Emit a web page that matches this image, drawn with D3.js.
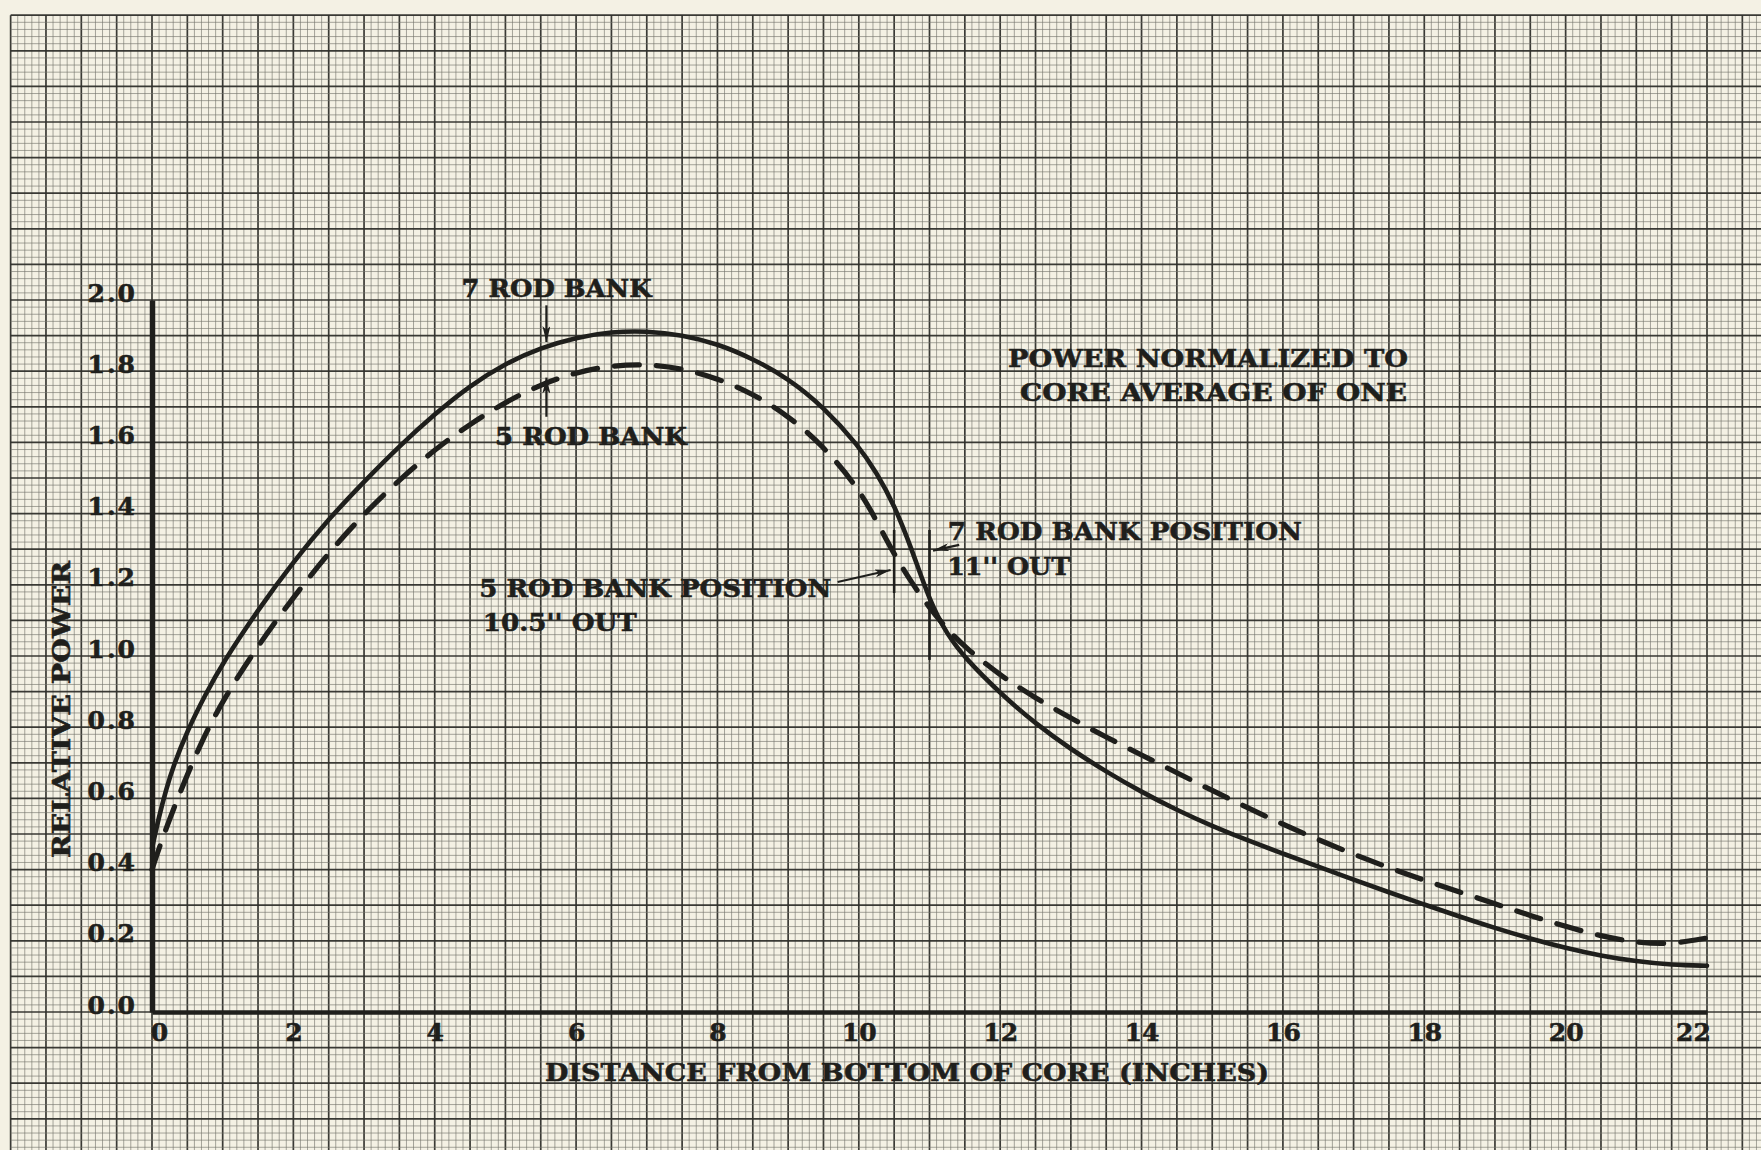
<!DOCTYPE html>
<html>
<head>
<meta charset="utf-8">
<script src="https://cdn.jsdelivr.net/npm/d3@7/dist/d3.min.js"></script>
<style>
  html, body { margin: 0; padding: 0; background: #f4f1e4; overflow: hidden; }
  svg { display: block; }
  text { font-family: "DejaVu Serif", "Liberation Serif", serif; font-weight: bold; fill: #1f1f1c; stroke: #1f1f1c; stroke-width: 0.6px; }
</style>
</head>
<body>
<svg id="chart" width="1761" height="1150"></svg>
<script>
// Axial power profile, normalized to the core average, for two rod bank configurations.

// 7 rod bank (solid curve): distance from bottom of core (in) and relative power
const distance7 = [0, 0.1, 0.2, 0.3, 0.5, 0.75, 1.0, 1.5, 2.0, 2.5, 3.0, 3.5, 4.0, 4.5, 5.0, 5.5, 6.0, 6.5, 7.0, 7.5, 8.0, 8.5, 9.0, 9.5, 10.0, 10.25, 10.5, 10.75, 11.0, 11.25, 11.5, 12.0, 12.5, 13.0, 13.5, 14.0, 14.5, 15.0, 15.5, 16.0, 16.5, 17.0, 17.5, 18.0, 18.5, 19.0, 19.5, 20.0, 20.5, 21.0, 21.5, 22.0];
const power7    = [0.46, 0.55, 0.625, 0.69, 0.79, 0.89, 0.98, 1.13, 1.265, 1.385, 1.49, 1.59, 1.68, 1.76, 1.822, 1.866, 1.895, 1.911, 1.913, 1.902, 1.877, 1.835, 1.78, 1.70, 1.59, 1.515, 1.425, 1.30, 1.155, 1.06, 0.995, 0.895, 0.81, 0.738, 0.675, 0.618, 0.567, 0.522, 0.482, 0.445, 0.408, 0.372, 0.336, 0.302, 0.268, 0.236, 0.206, 0.18, 0.158, 0.142, 0.132, 0.13];

// 5 rod bank (dashed curve)
const distance5 = [0, 0.15, 0.4, 0.7, 1.0, 1.5, 2.0, 2.5, 3.0, 3.5, 4.0, 4.5, 5.0, 5.5, 6.0, 6.5, 7.0, 7.5, 8.0, 8.5, 9.0, 9.5, 10.0, 10.25, 10.5, 10.75, 11.0, 11.25, 11.5, 12.0, 12.5, 13.0, 13.5, 14.0, 14.5, 15.0, 15.5, 16.0, 16.5, 17.0, 17.5, 18.0, 18.5, 19.0, 19.5, 20.0, 20.5, 21.0, 21.5, 22.0];
const power5    = [0.40, 0.49, 0.62, 0.76, 0.875, 1.03, 1.165, 1.29, 1.40, 1.495, 1.58, 1.652, 1.713, 1.763, 1.797, 1.816, 1.82, 1.808, 1.78, 1.737, 1.675, 1.59, 1.47, 1.38, 1.285, 1.205, 1.135, 1.075, 1.025, 0.945, 0.882, 0.825, 0.772, 0.722, 0.672, 0.622, 0.574, 0.527, 0.484, 0.443, 0.405, 0.37, 0.337, 0.304, 0.271, 0.24, 0.213, 0.195, 0.19, 0.208];

// Tick values
const xTicks = [0, 2, 4, 6, 8, 10, 12, 14, 16, 18, 20, 22];
const yTicks = [0.0, 0.2, 0.4, 0.6, 0.8, 1.0, 1.2, 1.4, 1.6, 1.8, 2.0];

// Rod bank withdrawal positions (inches out)
const bankPositions = [10.5, 11];

const W = 1761, H = 1150;
const svg = d3.select("#chart");
const ink = "#1f1f1c";

const x = d3.scaleLinear().domain([0, 22]).range([152, 1707]);
const y = d3.scaleLinear().domain([0, 2]).range([1012, 300]);

// ---- graph paper: fine rulings every 0.1 in / 0.02, heavy every 0.5 in / 0.1 ----
const paper = svg.append("g").attr("class", "paper");
const gx0 = x(-2), gy0 = y(2.8);
const vLines = d3.range(-20, 229).map(i => ({ v: i / 10, major: i % 5 === 0 }));
const hLines = d3.range(-20, 141).map(i => ({ v: i * 0.02, major: i % 5 === 0 }));

paper.selectAll("line.v").data(vLines).join("line")
  .attr("x1", d => x(d.v)).attr("x2", d => x(d.v))
  .attr("y1", gy0).attr("y2", H)
  .attr("stroke", d => d.major ? "#2f2f2b" : "#75756d")
  .attr("stroke-width", d => d.major ? 1.7 : 0.9)
  .attr("stroke-opacity", d => d.major ? 0.95 : 0.7);

paper.selectAll("line.h").data(hLines).join("line")
  .attr("y1", d => y(d.v)).attr("y2", d => y(d.v))
  .attr("x1", gx0).attr("x2", W)
  .attr("stroke", d => d.major ? "#2f2f2b" : "#75756d")
  .attr("stroke-width", d => d.major ? 1.7 : 0.9)
  .attr("stroke-opacity", d => d.major ? 0.95 : 0.7);

// ---- axes ----
const xAxis = svg.append("g")
  .attr("transform", `translate(0,${y(0)})`)
  .call(d3.axisBottom(x).tickValues(xTicks).tickFormat(d3.format("d")).tickSize(0).tickSizeOuter(0).tickPadding(11));
xAxis.select(".domain").attr("stroke", ink).attr("stroke-width", 4.5);
xAxis.selectAll("text")
  .style("font-size", "25px").attr("fill", ink)
  .attr("dx", d => d === 0 ? 7 : (d === 22 ? -14 : 0));

const yAxis = svg.append("g")
  .attr("transform", `translate(${x(0)},0)`)
  .call(d3.axisLeft(y).tickValues(yTicks).tickFormat(d3.format(".1f")).tickSize(0).tickSizeOuter(0).tickPadding(15));
yAxis.select(".domain").attr("stroke", ink).attr("stroke-width", 5.5);
yAxis.selectAll("text")
  .style("font-size", "25px").style("letter-spacing", "2px").attr("fill", ink)
  .attr("dy", "0.04em");

// Axis titles
svg.append("text")
  .attr("transform", `translate(70,${y(0.85)}) rotate(-90)`)
  .attr("text-anchor", "middle")
  .attr("textLength", 297).attr("lengthAdjust", "spacingAndGlyphs")
  .style("font-size", "25px")
  .text("RELATIVE POWER");

svg.append("text")
  .attr("x", 907).attr("y", 1081)
  .attr("text-anchor", "middle")
  .attr("textLength", 724).attr("lengthAdjust", "spacingAndGlyphs")
  .style("font-size", "25px")
  .text("DISTANCE FROM BOTTOM OF CORE (INCHES)");

// ---- curves ----
const line = d3.line().x(d => x(d[0])).y(d => y(d[1])).curve(d3.curveBasis);
const series7 = distance7.map((d, i) => [d, power7[i]]);
const series5 = distance5.map((d, i) => [d, power5[i]]);

svg.append("path").datum(series5)
  .attr("d", line).attr("fill", "none")
  .attr("stroke", ink).attr("stroke-width", 5.2)
  .attr("stroke-dasharray", "25,17").attr("stroke-linecap", "round");

svg.append("path").datum(series7)
  .attr("d", line).attr("fill", "none")
  .attr("stroke", ink).attr("stroke-width", 4.6)
  .attr("stroke-linecap", "round");

// ---- annotations ----
const defs = svg.append("defs");
defs.append("marker")
  .attr("id", "head").attr("viewBox", "0 0 16 8")
  .attr("refX", 16).attr("refY", 4)
  .attr("markerWidth", 16).attr("markerHeight", 8)
  .attr("markerUnits", "userSpaceOnUse").attr("orient", "auto")
  .append("path").attr("d", "M0,0 L16,4 L0,8 L4,4 Z").attr("fill", ink);

function arrow(x1, y1, x2, y2) {
  svg.append("line")
    .attr("x1", x(x1)).attr("y1", y(y1)).attr("x2", x(x2)).attr("y2", y(y2))
    .attr("stroke", ink).attr("stroke-width", 2.2)
    .attr("marker-end", "url(#head)");
}

function label(str, xv, yv, len) {
  svg.append("text")
    .attr("x", x(xv)).attr("y", y(yv))
    .attr("textLength", len).attr("lengthAdjust", "spacingAndGlyphs")
    .style("font-size", "25px")
    .text(str);
}

label("7 ROD BANK", 4.38, 2.009, 190);
arrow(5.58, 1.985, 5.58, 1.882);

label("5 ROD BANK", 4.853, 1.593, 192);
arrow(5.58, 1.672, 5.58, 1.782);

label("POWER NORMALIZED TO", 12.11, 1.8126, 400);
label("CORE AVERAGE OF ONE", 12.28, 1.717, 387);

// Rod bank position markers
svg.selectAll("line.pos").data(bankPositions).join("line")
  .attr("x1", d => x(d)).attr("x2", d => x(d))
  .attr("y1", y(1.354)).attr("y2", d => d === 11 ? y(0.989) : y(1.177))
  .attr("stroke", ink).attr("stroke-width", 2.6);

label("7 ROD BANK POSITION", 11.26, 1.326, 354);
label("11'' OUT", 11.25, 1.2275, 123);
arrow(11.42, 1.312, 11.05, 1.296);

label("5 ROD BANK POSITION", 4.63, 1.1666, 352);
label("10.5'' OUT", 4.68, 1.070, 154);
arrow(9.7, 1.208, 10.45, 1.2416);
</script>
</body>
</html>
